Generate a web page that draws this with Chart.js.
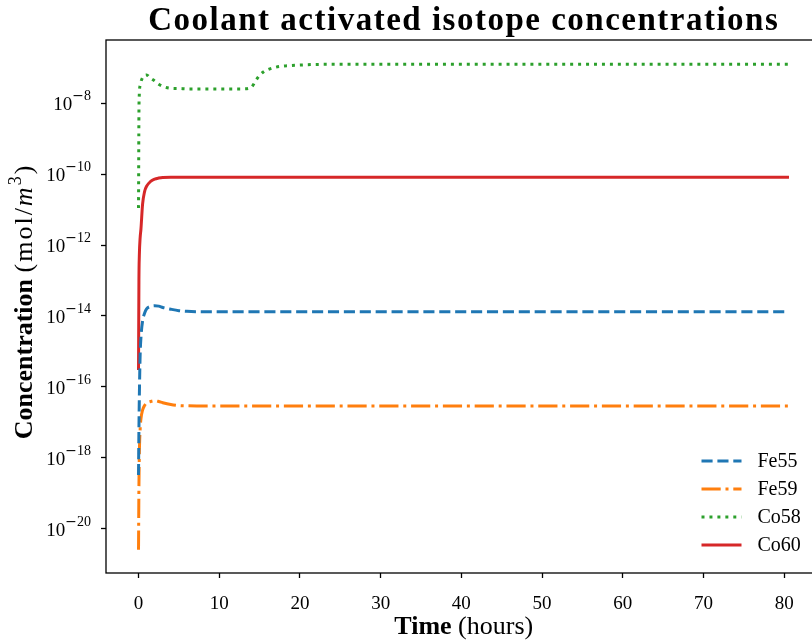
<!DOCTYPE html>
<html>
<head>
<meta charset="utf-8">
<script src="https://cdn.jsdelivr.net/npm/chart.js@4.4.1/dist/chart.umd.min.js"></script>
<style>
  html, body { margin: 0; padding: 0; background: #fff; }
  #wrap { width: 812px; height: 640px; overflow: hidden; }
</style>
</head>
<body>
<div id="wrap"><canvas id="chart" width="840" height="640"></canvas></div>
<script>
// simulation output, hours vs mol/m^3
const TIME_H = [0, 0.05, 0.1, 0.2, 0.3, 0.5, 0.75, 1, 1.5, 2, 2.5, 3, 4, 5, 6, 8, 10,
                13, 14, 14.5, 15, 15.5, 16, 17, 18, 20, 22, 25, 30, 40, 50, 60, 70, 80.6];

const FE55 = [3.3e-19, 6.3e-18, 5.0e-17, 7.9e-16, 2.5e-15, 7.1e-15, 1.2e-14, 1.58e-14, 1.86e-14,
              1.95e-14, 1.9e-14, 1.74e-14, 1.55e-14, 1.41e-14, 1.35e-14, 1.32e-14, 1.32e-14,
              1.32e-14, 1.32e-14, 1.32e-14, 1.32e-14, 1.32e-14, 1.32e-14, 1.32e-14, 1.32e-14,
              1.32e-14, 1.32e-14, 1.32e-14, 1.32e-14, 1.32e-14, 1.32e-14, 1.32e-14, 1.32e-14, 1.32e-14];

const FE59 = [2.6e-21, 1.6e-19, 1.26e-18, 6.3e-18, 1.26e-17, 2.24e-17, 3.0e-17, 3.5e-17, 3.9e-17,
              4.1e-17, 3.9e-17, 3.6e-17, 3.2e-17, 3.0e-17, 2.95e-17, 2.9e-17, 2.9e-17,
              2.9e-17, 2.9e-17, 2.9e-17, 2.9e-17, 2.9e-17, 2.9e-17, 2.9e-17, 2.9e-17,
              2.9e-17, 2.9e-17, 2.9e-17, 2.9e-17, 2.9e-17, 2.9e-17, 2.9e-17, 2.9e-17, 2.9e-17];

const CO58 = [1.1e-11, 5.0e-9, 1.8e-8, 3.2e-8, 4.0e-8, 5.2e-8, 6.0e-8, 6.2e-8, 5.0e-8,
              4.2e-8, 3.4e-8, 2.95e-8, 2.6e-8, 2.57e-8, 2.5e-8, 2.5e-8, 2.5e-8,
              2.5e-8, 2.8e-8, 4.2e-8, 6.0e-8, 7.6e-8, 8.7e-8, 1.02e-7, 1.1e-7,
              1.17e-7, 1.22e-7, 1.23e-7, 1.23e-7, 1.23e-7, 1.23e-7, 1.23e-7, 1.23e-7, 1.23e-7];

const CO60 = [3.0e-16, 1.0e-13, 5.0e-13, 1.6e-12, 2.8e-12, 1.4e-11, 3.2e-11, 4.5e-11, 6.2e-11,
              7.2e-11, 7.7e-11, 8.0e-11, 8.1e-11, 8.1e-11, 8.1e-11, 8.1e-11, 8.1e-11,
              8.1e-11, 8.1e-11, 8.1e-11, 8.1e-11, 8.1e-11, 8.1e-11, 8.1e-11, 8.1e-11,
              8.1e-11, 8.1e-11, 8.1e-11, 8.1e-11, 8.1e-11, 8.1e-11, 8.1e-11, 8.1e-11, 8.1e-11];

const X_TICKS = [0, 10, 20, 30, 40, 50, 60, 70, 80];
const Y_TICK_POW = [-20, -18, -16, -14, -12, -10, -8];
const X_MIN = -4.03, X_MAX = 84.63;
const Y_MIN = 5.75e-22, Y_MAX = 5.96e-7;

const SERIF = '"Liberation Serif", "DejaVu Serif", serif';

const series = (label, values, color, dash) => ({
  label,
  data: TIME_H.map((t, i) => ({ x: t, y: values[i] })),
  borderColor: color,
  borderWidth: 3,
  borderDash: dash,
  borderCapStyle: 'butt',
  pointRadius: 0,
  fill: false,
  cubicInterpolationMode: 'monotone',
});

// draw a run of text pieces with their own fonts, starting at x
function drawRun(ctx, parts, x, y) {
  parts.forEach(pt => {
    ctx.font = pt.f;
    ctx.letterSpacing = pt.ls || '0px';
    ctx.fillText(pt.t, x, y + (pt.dy || 0));
    x += ctx.measureText(pt.t).width;
  });
  ctx.letterSpacing = '0px';
}
function runWidth(ctx, parts) {
  let w = 0;
  parts.forEach(pt => {
    ctx.font = pt.f;
    ctx.letterSpacing = pt.ls || '0px';
    w += ctx.measureText(pt.t).width;
  });
  ctx.letterSpacing = '0px';
  return w;
}

// axes frame, y tick labels with exponents, axis titles, title and legend
const decorations = {
  id: 'decorations',
  afterDraw(chart) {
    const { ctx, chartArea: a, scales } = chart;
    ctx.save();
    ctx.strokeStyle = '#000';
    ctx.lineWidth = 1.3;
    ctx.setLineDash([]);
    ctx.strokeRect(a.left, a.top, a.right - a.left, a.bottom - a.top);

    ctx.fillStyle = '#000';
    ctx.textBaseline = 'alphabetic';
    ctx.textAlign = 'left';
    Y_TICK_POW.forEach(p => {
      const py = scales.y.getPixelForValue(Math.pow(10, p));
      const label = [
        { t: '10', f: `19px ${SERIF}`, dy: 7 },
        { t: '\u2212', f: '14px "DejaVu Serif", serif', dy: -3 },
        { t: String(-p), f: `14px ${SERIF}`, dy: -3 },
      ];
      const w = runWidth(ctx, label);
      drawRun(ctx, label, a.left - 15 - w, py);
    });

    const cx = (a.left + a.right) / 2;
    const cy = (a.top + a.bottom) / 2;

    // title
    ctx.font = `bold 33px ${SERIF}`;
    ctx.letterSpacing = '1.5px';
    ctx.textAlign = 'center';
    ctx.fillText('Coolant activated isotope concentrations', cx, 30);
    ctx.letterSpacing = '0px';
    ctx.textAlign = 'left';

    // x axis title
    const xTitle = [
      { t: 'Time', f: `bold 26px ${SERIF}` },
      { t: ' (hours)', f: `26px ${SERIF}` },
    ];
    drawRun(ctx, xTitle, cx - runWidth(ctx, xTitle) / 2, 634);

    // y axis title, rotated
    const yTitle = [
      { t: 'Concentration ', f: `bold 26px ${SERIF}` },
      { t: '(mol/', f: `26px ${SERIF}`, ls: '2px' },
      { t: 'm', f: `italic 26px ${SERIF}`, ls: '2px' },
      { t: '3', f: `18px ${SERIF}`, dy: -11, ls: '2px' },
      { t: ')', f: `26px ${SERIF}` },
    ];
    const yw = runWidth(ctx, yTitle);
    ctx.translate(32, cy - 4);
    ctx.rotate(-Math.PI / 2);
    drawRun(ctx, yTitle, -yw / 2, 0);
    ctx.setTransform(1, 0, 0, 1, 0, 0);

    // legend, lower right inside the axes
    ctx.font = `20px ${SERIF}`;
    ctx.textBaseline = 'middle';
    chart.data.datasets.forEach((ds, i) => {
      const ry = a.bottom - 112 + i * 28;
      ctx.strokeStyle = ds.borderColor;
      ctx.lineWidth = ds.borderWidth;
      ctx.lineCap = 'butt';
      ctx.setLineDash(ds.borderDash || []);
      ctx.beginPath();
      ctx.moveTo(a.right - 120, ry);
      ctx.lineTo(a.right - 80, ry);
      ctx.stroke();
      ctx.fillText(ds.label, a.right - 64, ry + 1);
    });
    ctx.restore();
  }
};

const tickGrid = { drawOnChartArea: false, drawTicks: true, tickLength: 5, tickColor: '#000', tickWidth: 1.3 };

new Chart(document.getElementById('chart'), {
  type: 'line',
  data: {
    datasets: [
      series('Fe55', FE55, '#1f77b4', [11.1, 4.8]),
      series('Fe59', FE59, '#ff7f0e', [19.2, 4.8, 3, 4.8]),
      series('Co58', CO58, '#2ca02c', [3, 4.95]),
      series('Co60', CO60, '#d62728', []),
    ],
  },
  options: {
    responsive: false,
    animation: false,
    devicePixelRatio: 1,
    layout: { padding: { top: 40, left: 0, right: 18.5, bottom: 0 } },
    plugins: { legend: { display: false }, title: { display: false }, tooltip: { enabled: false } },
    scales: {
      x: {
        type: 'linear',
        min: X_MIN,
        max: X_MAX,
        afterBuildTicks: s => { s.ticks = X_TICKS.map(v => ({ value: v })); },
        afterFit: s => { s.height = 67; },
        ticks: { font: { family: SERIF, size: 19 }, color: '#000', padding: 15, maxRotation: 0, autoSkip: false },
        grid: tickGrid,
        border: { display: false },
      },
      y: {
        type: 'logarithmic',
        min: Y_MIN,
        max: Y_MAX,
        afterBuildTicks: s => { s.ticks = Y_TICK_POW.map(p => ({ value: Math.pow(10, p) })); },
        afterFit: s => { s.width = 106; },
        ticks: { display: false },
        grid: tickGrid,
        border: { display: false },
      },
    },
  },
  plugins: [decorations],
});
</script>
</body>
</html>
